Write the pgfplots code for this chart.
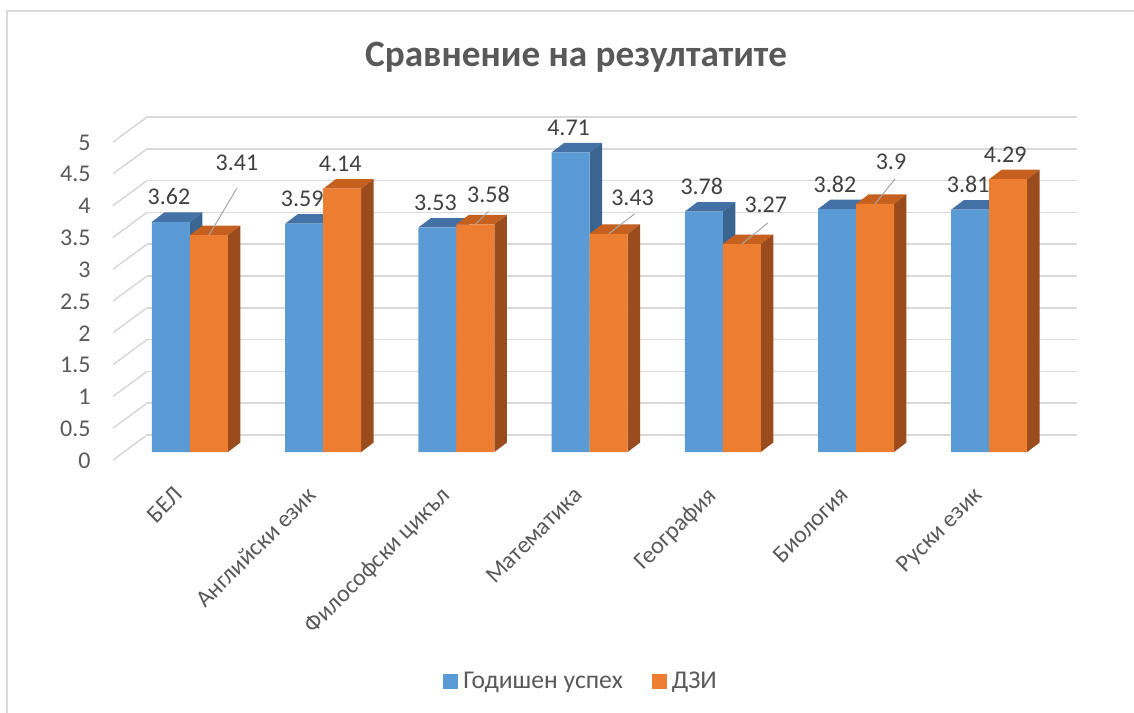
\documentclass[border=0pt]{standalone}
\usepackage{fontspec}
\setmainfont{Carlito}
\usepackage{pgfplots}
\usepackage{pgfplotstable}
\pgfplotsset{compat=1.18}
\definecolor{cblue}{HTML}{5B9BD5}
\definecolor{cbluetop}{HTML}{4472A6}
\definecolor{cblueside}{HTML}{3A6590}
\definecolor{corange}{HTML}{ED7D31}
\definecolor{corangetop}{HTML}{C5601E}
\definecolor{corangeside}{HTML}{9A4C1C}
\definecolor{gridc}{HTML}{D9D9D9}
\definecolor{textc}{HTML}{595959}
\definecolor{labc}{HTML}{404040}
\definecolor{leaderc}{HTML}{A6A6A6}

% lx, ly: label offsets (pt) from the top centre of the orange bar
\pgfplotstableread{
x blue orange lx ly
0 3.62 3.41 14 36
1 3.59 4.14 -1 12.5
2 3.53 3.58 6.5 15
3 4.71 3.43 12 18
4 3.78 3.27 12 19.5
5 3.82 3.90 8 21
6 3.81 4.29 -1.5 12
}\data

\pgfplotstableread{
x v u w
0 3.41 0.210 0.739
2 3.58 0.098 0.204
3 3.43 0.195 0.314
4 3.27 0.195 0.330
5 3.90 0.150 0.393
}\leaders

\def\bw{0.2853}\def\ddx{0.0938}\def\ddy{0.149}

\newcommand\threeD[4]{%
  \pgfmathsetmacro\xL{#1}%
  \pgfmathsetmacro\xR{#1+\bw}%
  \pgfmathsetmacro\xLd{#1+\ddx}%
  \pgfmathsetmacro\xRd{#1+\bw+\ddx}%
  \pgfmathsetmacro\vt{#2+\ddy}%
  \edef\temp{\noexpand\addplot[fill=#3,draw=none,forget plot] coordinates {(\xL,#2) (\xR,#2) (\xRd,\vt) (\xLd,\vt)} -- cycle;
  \noexpand\addplot[fill=#4,draw=none,forget plot] coordinates {(\xR,0) (\xRd,\ddy) (\xRd,\vt) (\xR,#2)} -- cycle;}%
  \temp
}

\pgfplotsset{/pgf/number format/assume math mode=true}

\begin{document}
\begin{tikzpicture}
\useasboundingbox (0,0) rectangle (567pt,356pt);
\draw[gridc, line width=0.75pt] (3.5pt,-10pt) rectangle (600pt,350.5pt);
\node[font=\fontsize{18.6}{22}\selectfont\bfseries, text=textc, anchor=base] at (288pt,322.5pt) {Сравнение на резултатите};

% back wall with gridlines
\begin{axis}[
  at={(73.5pt,138.5pt)}, anchor=south west,
  width=465pt, height=159pt, scale only axis,
  xmin=0, xmax=1, ymin=0, ymax=5,
  axis line style={draw=none},
  xtick=\empty,
  ytick={0,0.5,1,1.5,2,2.5,3,3.5,4,4.5,5},
  yticklabels={},
  major tick length=0pt,
  ymajorgrids,
  grid style={gridc, line width=0.8pt},
  clip=false,
]
\pgfplotsinvokeforeach{0,0.5,1,1.5,2,2.5,3,3.5,4,4.5,5}{
  \draw[gridc, line width=0.8pt] (axis cs:0,#1) -- ++(-17pt,-12.5pt);
}
\end{axis}

% bars
\begin{axis}[
  at={(56.5pt,130pt)}, anchor=south west,
  width=465pt, height=159pt, scale only axis,
  xmin=-0.578, xmax=6.404, ymin=0, ymax=5,
  axis line style={draw=none},
  major tick length=0pt,
  clip=false,
  xtick={0,1,2,3,4,5,6},
  xticklabels={БЕЛ, Английски език, Философски цикъл, Математика, География, Биология, Руски език},
  ytick={0,0.5,1,1.5,2,2.5,3,3.5,4,4.5,5},
  tick label style={font=\fontsize{12}{14}\selectfont, text=textc},
  xticklabel style={yshift=-16.5pt, xshift=-8.5pt, rotate=45, anchor=north east, inner sep=0pt},
  yticklabel style={anchor=east, inner sep=0pt, xshift=-11pt, yshift=-4.25pt},
  legend style={at={(0.505,-0.723)}, anchor=center, draw=none, fill=none,
    legend columns=2, font=\fontsize{12.8}{15}\selectfont, text=textc,
    nodes={inner sep=2.5pt},
    /tikz/every even column/.append style={column sep=12pt}},
  legend image code/.code={\fill[#1] (0pt,-3.75pt) rectangle (7.5pt,3.75pt);},
]
\pgfplotsforeachungrouped \i in {0,...,6}{%
  \pgfplotstablegetelem{\i}{blue}\of\data \let\vb\pgfplotsretval
  \pgfmathsetmacro\xb{\i-\bw}%
  \threeD{\xb}{\vb}{cbluetop}{cblueside}%
}
\addplot[ybar, bar width=19pt, bar shift=-9.5pt, fill=cblue, draw=none,
  nodes near coords,
  every node near coord/.append style={anchor=center, xshift=-10.5pt, yshift=12.5pt, font=\fontsize{12}{14}\selectfont, text=labc}]
  table[x=x,y=blue]{\data};
\addlegendentry{Годишен успех}
\pgfplotsforeachungrouped \i in {0,...,6}{%
  \pgfplotstablegetelem{\i}{orange}\of\data \let\vo\pgfplotsretval
  \threeD{\i}{\vo}{corangetop}{corangeside}%
}
\addplot[ybar, bar width=19pt, bar shift=9.5pt, fill=corange, draw=none,
  visualization depends on={\thisrow{lx} \as \lx},
  visualization depends on={\thisrow{ly} \as \ly},
  nodes near coords,
  every node near coord/.append style={anchor=center, xshift=\lx pt+9.5pt, yshift=\ly pt, font=\fontsize{12}{14}\selectfont, text=labc}]
  table[x=x,y=orange]{\data};
\addlegendentry{ДЗИ}
\addplot[quiver={u=\thisrow{u},v=\thisrow{w}}, draw=leaderc, line width=0.5pt, forget plot]
  table[x expr=\thisrow{x}+0.1427, y=v]{\leaders};
\end{axis}
\end{tikzpicture}
\end{document}
